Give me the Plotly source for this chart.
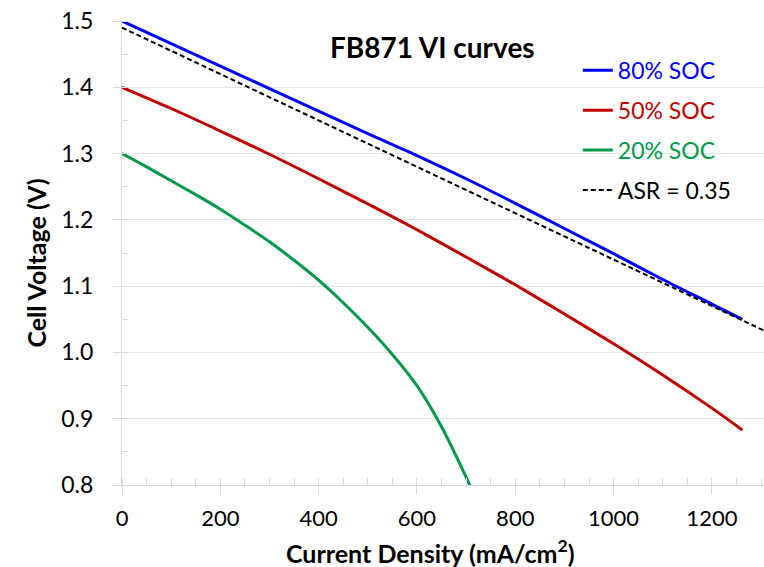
import plotly.graph_objects as go

# ---- data ----
soc80_x = [0, 100, 200, 300, 400, 500, 600, 700, 800, 900, 1000, 1100, 1200, 1262]
soc80_y = [1.500, 1.466, 1.432, 1.398, 1.364, 1.330, 1.297, 1.262, 1.225, 1.187, 1.149, 1.110, 1.073, 1.050]

soc50_x = [0, 100, 200, 300, 400, 500, 600, 700, 800, 900, 1000, 1100, 1200, 1262]
soc50_y = [1.400, 1.368, 1.334, 1.299, 1.262, 1.224, 1.185, 1.144, 1.102, 1.058, 1.013, 0.966, 0.916, 0.883]

soc20_x = [0, 50, 100, 150, 200, 250, 300, 350, 400, 450, 500, 550, 600, 650, 700, 712]
soc20_y = [1.300, 1.280, 1.259, 1.238, 1.216, 1.192, 1.167, 1.139, 1.109, 1.075, 1.038, 0.997, 0.950, 0.888, 0.812, 0.792]

asr_x = [0, 1306]
asr_y = [1.490, 1.033]

names = ["80% SOC", "50% SOC", "20% SOC", "ASR = 0.35"]
colors = ["#0000FF", "#C00000", "#00994C", "#000000"]

x_ticks = [0, 200, 400, 600, 800, 1000, 1200]
y_ticks = [0.8, 0.9, 1.0, 1.1, 1.2, 1.3, 1.4, 1.5]

FONT = "Lato"

fig = go.Figure()
series = [(soc80_x, soc80_y), (soc50_x, soc50_y), (soc20_x, soc20_y)]
for i, (xs, ys) in enumerate(series):
    fig.add_trace(go.Scatter(
        x=xs, y=ys, mode="lines", line=dict(color=colors[i], width=3, shape="spline", smoothing=0.8),
        name=f"<span style='color:{colors[i]}'>{names[i]}</span>", legendgroup=f"g{i}"))
fig.add_trace(go.Scatter(
    x=asr_x, y=asr_y, mode="lines", line=dict(color=colors[3], width=2, dash="5px,3px"),
    name=names[3], legendgroup="g3"))

fig.update_layout(
    width=764, height=567,
    margin=dict(l=122, r=0, t=21, b=82, pad=0),
    paper_bgcolor="white", plot_bgcolor="white",
    font=dict(family=FONT, size=21, color="black"),
    showlegend=True,
    legend=dict(x=0.71, y=0.94, xanchor="left", yanchor="top", bgcolor="rgba(0,0,0,0)",
                font=dict(size=23), tracegroupgap=7, itemwidth=30),
)
fig.update_xaxes(
    range=[0, 1306], tickvals=x_ticks, showgrid=False, zeroline=False,
    showline=True, linecolor="#D9D9D9", linewidth=1,
    ticks="outside", ticklen=8, tickcolor="#D9D9D9",
    minor=dict(dtick=50, ticks="inside", ticklen=7, tickcolor="#D9D9D9", showgrid=False),
    tickfont=dict(size=22), ticklabelstandoff=6, automargin=False)
fig.update_yaxes(
    range=[0.8, 1.5], tickvals=y_ticks, tickformat=".1f", showgrid=True, gridcolor="#E3E3E3",
    zeroline=False, showline=True, linecolor="#D9D9D9", linewidth=1,
    ticks="outside", ticklen=8, tickcolor="#D9D9D9",
    minor=dict(dtick=0.05, ticks="inside", ticklen=6, tickcolor="#D9D9D9", showgrid=False),
    tickfont=dict(size=23), ticklabelstandoff=15, automargin=False)

fig.add_annotation(text="<b>FB871 VI curves</b>", xref="paper", yref="paper", x=0.483, y=0.944,
                   showarrow=False, font=dict(size=28), xanchor="center", yanchor="middle")
fig.add_annotation(text="<b>Current Density (mA/cm<sup>2</sup>)</b>", xref="paper", yref="paper",
                   x=0.48, y=-0.144, showarrow=False, font=dict(size=25), xanchor="center", yanchor="middle")
fig.add_annotation(text="<b>Cell Voltage (V)</b>", xref="paper", yref="paper",
                   x=-0.1334, y=0.478, showarrow=False, font=dict(size=25), textangle=-90,
                   xanchor="center", yanchor="middle")

fig.write_html("out.html")
